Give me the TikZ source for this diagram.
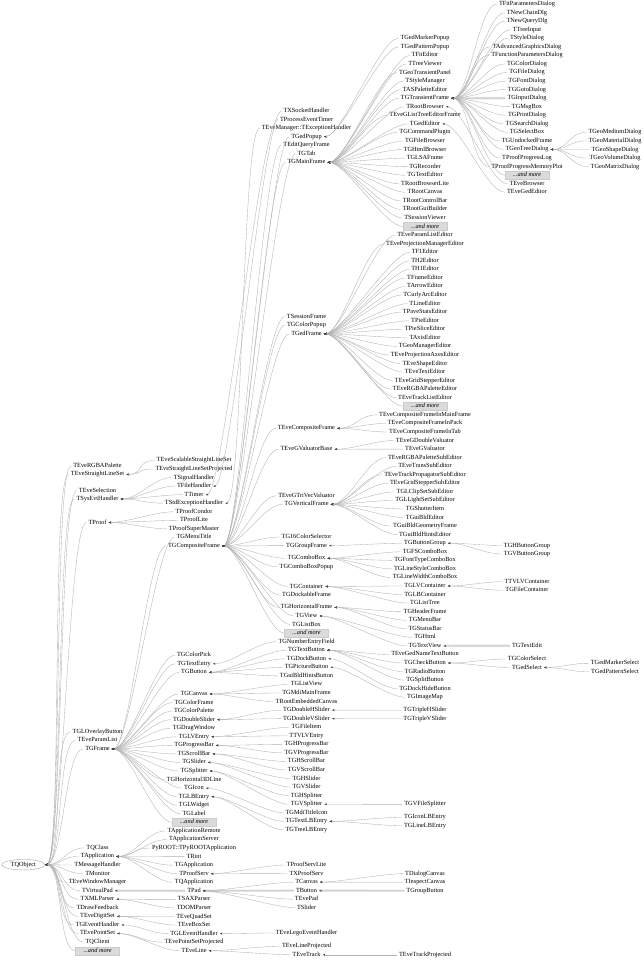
\documentclass[tikz,border=0pt]{standalone}
\usepackage{fontspec}
\setmainfont{Liberation Serif}
\usetikzlibrary{arrows.meta,shapes.geometric}
\tikzset{
 lbl/.style={inner xsep=2pt,inner ysep=0.6pt,font=\fontsize{6.3}{7}\selectfont,text height=4.4pt,text depth=1.4pt},
 morebox/.style={lbl,fill=gray!28,draw=gray!40,line width=0.2pt,minimum width=44pt,minimum height=8pt,font=\fontsize{6.3}{7}\selectfont\itshape},
 rootnode/.style={ellipse,draw=gray!70,line width=0.4pt,fill=white,minimum width=43pt,minimum height=10.5pt,inner sep=0pt,font=\fontsize{6.3}{7}\selectfont},
 edge/.style={draw=gray!60,line width=0.35pt,arrows={Stealth[length=2.6pt,width=1.9pt,color=black!75]-}},
 hl/.style={draw=gray!22,line width=2.4pt},
}
\newcommand\lnk[2]{\draw[edge] (#1.east) .. controls +(18,0) and +(-18,0) .. (#2.west);}
\newcommand\hlnk[2]{\draw[hl] (#1.east) -- (#2.west);}
\begin{document}
\begin{tikzpicture}[x=1pt,y=-1pt]
\fill[white] (0,0) rectangle (644,960);
\useasboundingbox (0,0) rectangle (644,960);
% ---------- column A
\node[rootnode] (qobj) at (23.3,864.7) {TQObject};
% ---------- column B
\node[lbl] (bRGBA) at (97.5,465.9) {TEveRGBAPalette};
\node[lbl] (bSLS) at (97.5,474.4) {TEveStraightLineSet};
\node[lbl] (bSel) at (97.5,490.5) {TEveSelection};
\node[lbl] (bSys) at (97.5,499.0) {TSysEvtHandler};
\node[lbl] (bProof) at (97.5,522.5) {TProof};
\node[lbl] (bOvl) at (97.5,731.9) {TGLOverlayButton};
\node[lbl] (bPar) at (97.5,740.4) {TEveParamList};
\node[lbl] (bFrame) at (97.5,749.0) {TGFrame};
\foreach \nm/\tx [count=\i from 0] in {bQC/TQClass,bApp/TApplication,bMsg/TMessageHandler,bMon/TMonitor,bEWM/TEveWindowManager,bVP/TVirtualPad,bXML/TXMLParser,bDF/TDrawFeedback,bEDS/TEveDigitSet,bGEH/TGEventHandler,bEPS/TEvePointSet,bQCl/TQClient}
 {\node[lbl] (\nm) at (97.5,{847.9+8.558*\i}) {\tx};}
\node[morebox] (bMore) at (97.5,950.6) {...and more};
% ---------- column C
\foreach \nm/\tx [count=\i from 0] in {cSSLS/TEveScalableStraightLineSet,cSLSP/TEveStraightLineSetProjected,cSig/TSignalHandler,cFH/TFileHandler,cTim/TTimer,cSEH/TStdExceptionHandler,cPC/TProofCondor,cPL/TProofLite,cPSM/TProofSuperMaster,cMT/TGMenuTitle,cCF/TGCompositeFrame}
 {\node[lbl] (\nm) at (194,{460.4+8.558*\i}) {\tx};}
\foreach \nm/\tx [count=\i from 0] in {cCP/TGColorPick,cTE/TGTextEntry,cBut/TGButton}
 {\node[lbl] (\nm) at (194,{655.2+8.558*\i}) {\tx};}
\foreach \nm/\tx [count=\i from 0] in {cCan/TGCanvas,cCFr/TGColorFrame,cCPal/TGColorPalette,cDS/TGDoubleSlider,cDW/TGDragWindow,cLVE/TGLVEntry,cPB/TGProgressBar,cSB/TGScrollBar,cSl/TGSlider,cSp/TGSplitter,cH3D/TGHorizontal3DLine,cIcon/TGIcon,cLBE/TGLBEntry,cGLW/TGLWidget,cLab/TGLabel}
 {\node[lbl] (\nm) at (194,{694.0+8.558*\i}) {\tx};}
\node[morebox] (cMore) at (194,822.4) {...and more};
\foreach \nm/\tx [count=\i from 16] in {cAR/TApplicationRemote,cAS/TApplicationServer,cPy/PyROOT::TPyROOTApplication,cRint/TRint,cGApp/TGApplication,cPS/TProofServ,cQApp/TQApplication,cPad/TPad,cSAX/TSAXParser,cDOM/TDOMParser,cEQS/TEveQuadSet,cEBS/TEveBoxSet,cGLEH/TGLEventHandler,cEPSP/TEvePointSetProjected,cELine/TEveLine}
 {\node[lbl] (\nm) at (194,{694.0+8.558*\i}) {\tx};}
% ---------- column D
\foreach \nm/\tx [count=\i from 0] in {dXS/TXSocketHandler,dPET/TProcessEventTimer,dEMX/TEveManager::TExceptionHandler,dGP/TGedPopup,dEQF/TEditQueryFrame,dTab/TGTab,dMF/TGMainFrame}
 {\node[lbl] (\nm) at (306.5,{111.0+8.558*\i}) {\tx};}
\foreach \nm/\tx [count=\i from 0] in {dSF/TSessionFrame,dCPop/TGColorPopup,dGF/TGedFrame}
 {\node[lbl] (\nm) at (306.5,{316.7+8.558*\i}) {\tx};}
\node[lbl] (dECF) at (306.5,428.3) {TEveCompositeFrame};
\node[lbl] (dGVB) at (306.5,449.2) {TEveGValuatorBase};
\node[lbl] (dGTV) at (306.5,495.8) {TEveGTriVecValuator};
\node[lbl] (dVF) at (306.5,504.3) {TGVerticalFrame};
\node[lbl] (d16) at (306.5,537.0) {TG16ColorSelector};
\node[lbl] (dGrp) at (306.5,545.6) {TGGroupFrame};
\node[lbl] (dCB) at (306.5,558.3) {TGComboBox};
\node[lbl] (dCBP) at (306.5,566.9) {TGComboBoxPopup};
\node[lbl] (dCont) at (306.5,586.5) {TGContainer};
\node[lbl] (dDock) at (306.5,595.0) {TGDockableFrame};
\foreach \nm/\tx [count=\i from 0] in {dHF/TGHorizontalFrame,dView/TGView,dLB/TGListBox}
 {\node[lbl] (\nm) at (306.5,{607.4+8.558*\i}) {\tx};}
\node[morebox] (dMore) at (306.5,633.1) {...and more};
\foreach \nm/\tx [count=\i from 4] in {dNEF/TGNumberEntryField,dTB/TGTextButton,dDB/TGDockButton,dPicB/TGPictureButton,dGBHB/TGuiBldHintsButton,dLV/TGListView,dMMF/TGMdiMainFrame,dREC/TRootEmbeddedCanvas,dDHS/TGDoubleHSlider,dDVS/TGDoubleVSlider,dFI/TGFileItem,dTTV/TTVLVEntry,dHPB/TGHProgressBar,dVPB/TGVProgressBar,dHSB/TGHScrollBar,dVSB/TGVScrollBar,dHSl/TGHSlider,dVSl/TGVSlider,dHSp/TGHSplitter,dVSp/TGVSplitter,dMTI/TGMdiTitleIcon,dTLB/TGTextLBEntry,dTrLB/TGTreeLBEntry}
 {\node[lbl] (\nm) at (306.5,{607.4+8.558*\i}) {\tx};}
\foreach \nm/\tx [count=\i from 0] in {dPSL/TProofServLite,dXPS/TXProofServ,dCan/TCanvas,dBut/TButton,dEPad/TEvePad,dSli/TSlider}
 {\node[lbl] (\nm) at (306.5,{865.0+8.558*\i}) {\tx};}
\node[lbl] (dLEH) at (306.5,933.0) {TEveLegoEventHandler};
\node[lbl] (dELP) at (306.5,946.2) {TEveLineProjected};
\node[lbl] (dETr) at (306.5,954.7) {TEveTrack};
% ---------- column E
\foreach \tx [count=\k from 0] in {TGedMarkerPopup,TGedPatternPopup,TFitEditor,TTreeViewer,TGeoTransientPanel,TStyleManager,TASPaletteEditor,TGTransientFrame,TRootBrowser,TEveGListTreeEditorFrame,TGedEditor,TGCommandPlugin,TGFileBrowser,TGHtmlBrowser,TGLSAFrame,TGRecorder,TGTextEditor,TRootBrowserLite,TRootCanvas,TRootControlBar,TRootGuiBuilder,TSessionViewer}
 {\node[lbl] (e\k) at (425,{38.3+8.558*\k}) {\tx};}
\node[morebox] (e22) at (425,{38.3+8.558*22}) {...and more};
\foreach \tx [count=\k from 23] in {TEveParamListEditor,TEveProjectionManagerEditor,TF1Editor,TH2Editor,TH1Editor,TFrameEditor,TArrowEditor,TCurlyArcEditor,TLineEditor,TPaveStatsEditor,TPieEditor,TPieSliceEditor,TAxisEditor,TGeoManagerEditor,TEveProjectionAxesEditor,TEveShapeEditor,TEveTextEditor,TEveGridStepperEditor,TEveRGBAPaletteEditor,TEveTrackListEditor}
 {\node[lbl] (e\k) at (425,{38.3+8.558*\k}) {\tx};}
\node[morebox] (e43) at (425,{38.3+8.558*43}) {...and more};
\foreach \tx [count=\k from 44] in {TEveCompositeFrameInMainFrame,TEveCompositeFrameInPack,TEveCompositeFrameInTab,TEveGDoubleValuator,TEveGValuator,TEveRGBAPaletteSubEditor,TEveTransSubEditor,TEveTrackPropagatorSubEditor,TEveGridStepperSubEditor,TGLClipSetSubEditor,TGLLightSetSubEditor,TGShutterItem,TGuiBldEditor,TGuiBldGeometryFrame,TGuiBldHintsEditor,TGButtonGroup,TGFSComboBox,TGFontTypeComboBox,TGLineStyleComboBox,TGLineWidthComboBox,TGLVContainer,TGLBContainer,TGListTree,TGHeaderFrame,TGMenuBar,TGStatusBar,TGHtml,TGTextView,TEveGedNameTextButton,TGCheckButton,TGRadioButton,TGSplitButton,TGDockHideButton,TGImageMap}
 {\node[lbl] (e\k) at (425,{38.3+8.558*\k}) {\tx};}
\node[lbl] (eTHS) at (425,710.2) {TGTripleHSlider};
\node[lbl] (eTVS) at (425,718.8) {TGTripleVSlider};
\node[lbl] (eVFS) at (425,804.4) {TGVFileSplitter};
\node[lbl] (eILB) at (425,817.2) {TGIconLBEntry};
\node[lbl] (eLLB) at (425,825.8) {TGLineLBEntry};
\node[lbl] (eDC) at (425,873.6) {TDialogCanvas};
\node[lbl] (eIC) at (425,882.1) {TInspectCanvas};
\node[lbl] (eGB) at (425,890.7) {TGroupButton};
\node[lbl] (eETP) at (425,954.7) {TEveTrackProjected};
% ---------- column F
\foreach \tx [count=\k from 0] in {TFitParametersDialog,TNewChainDlg,TNewQueryDlg,TTreeInput,TStyleDialog,TAdvancedGraphicsDialog,TFunctionParametersDialog,TGColorDialog,TGFileDialog,TGFontDialog,TGGotoDialog,TGInputDialog,TGMsgBox,TGPrintDialog,TGSearchDialog,TGSelectBox,TGUndockedFrame,TGeoTreeDialog,TProofProgressLog,TProofProgressMemoryPlot}
 {\node[lbl] (f\k) at (527,{4.0+8.558*\k}) {\tx};}
\node[morebox] (f20) at (527,{4.0+8.558*20}) {...and more};
\node[lbl] (f21) at (527,{4.0+8.558*21}) {TEveBrowser};
\node[lbl] (f22) at (527,{4.0+8.558*22}) {TEveGedEditor};
\node[lbl] (fHBG) at (527,545.5) {TGHButtonGroup};
\node[lbl] (fVBG) at (527,554.0) {TGVButtonGroup};
\node[lbl] (fTVC) at (527,581.7) {TTVLVContainer};
\node[lbl] (fFC) at (527,590.3) {TGFileContainer};
\node[lbl] (fTE) at (527,645.9) {TGTextEdit};
\node[lbl] (fCS) at (527,659.0) {TGColorSelect};
\node[lbl] (fGS) at (527,667.5) {TGedSelect};
% ---------- column G
\foreach \tx [count=\k from 0] in {TGeoMediumDialog,TGeoMaterialDialog,TGeoShapeDialog,TGeoVolumeDialog,TGeoMatrixDialog}
 {\node[lbl] (g\k) at (615,{132.4+8.558*\k}) {\tx};}
\node[lbl] (gMS) at (615,663.3) {TGedMarkerSelect};
\node[lbl] (gPS) at (615,671.8) {TGedPatternSelect};
% ---------- highlighted straight edges
\hlnk{bVP}{cPad}
\hlnk{cPad}{dBut}
\hlnk{dBut}{eGB}
\hlnk{e7}{f11}
\hlnk{e71}{fTE}
% ---------- edges A -> B
\foreach \c in {bRGBA,bSLS,bSel,bSys,bProof,bOvl,bPar,bFrame,bQC,bApp,bMsg,bMon,bEWM,bVP,bXML,bDF,bEDS,bGEH,bEPS,bQCl,bMore} {\lnk{qobj}{\c}}
% ---------- edges B -> C
\foreach \c in {cSSLS,cSLSP} {\lnk{bSLS}{\c}}
\foreach \c in {cSig,cFH,cTim,cSEH} {\lnk{bSys}{\c}}
\foreach \c in {cPC,cPL,cPSM} {\lnk{bProof}{\c}}
\foreach \c in {cMT,cCF,cCP,cTE,cBut,cCan,cCFr,cCPal,cDS,cDW,cLVE,cPB,cSB,cSl,cSp,cH3D,cIcon,cLBE,cGLW,cLab,cMore} {\lnk{bFrame}{\c}}
\foreach \c in {cAR,cAS,cPy,cRint,cGApp,cPS,cQApp} {\lnk{bApp}{\c}}
\lnk{bVP}{cPad}
\foreach \c in {cSAX,cDOM} {\lnk{bXML}{\c}}
\foreach \c in {cEQS,cEBS} {\lnk{bEDS}{\c}}
\lnk{bGEH}{cGLEH}
\foreach \c in {cEPSP,cELine} {\lnk{bEPS}{\c}}
% ---------- edges C -> D
\lnk{cFH}{dXS}
\lnk{cTim}{dPET}
\lnk{cSEH}{dEMX}
\foreach \c in {dGP,dEQF,dTab,dMF,dSF,dCPop,dGF,dECF,dGVB,dGTV,dVF,d16,dGrp,dCB,dCBP,dCont,dDock,dHF,dView,dLB,dMore} {\lnk{cCF}{\c}}
\lnk{cTE}{dNEF}
\foreach \c in {dTB,dDB,dPicB,dGBHB} {\lnk{cBut}{\c}}
\foreach \c in {dLV,dMMF,dREC} {\lnk{cCan}{\c}}
\foreach \c in {dDHS,dDVS} {\lnk{cDS}{\c}}
\foreach \c in {dFI,dTTV} {\lnk{cLVE}{\c}}
\foreach \c in {dHPB,dVPB} {\lnk{cPB}{\c}}
\foreach \c in {dHSB,dVSB} {\lnk{cSB}{\c}}
\foreach \c in {dHSl,dVSl} {\lnk{cSl}{\c}}
\foreach \c in {dHSp,dVSp} {\lnk{cSp}{\c}}
\lnk{cIcon}{dMTI}
\foreach \c in {dTLB,dTrLB} {\lnk{cLBE}{\c}}
\foreach \c in {dPSL,dXPS} {\lnk{cPS}{\c}}
\foreach \c in {dCan,dBut,dEPad,dSli} {\lnk{cPad}{\c}}
\lnk{cGLEH}{dLEH}
\foreach \c in {dELP,dETr} {\lnk{cELine}{\c}}
% ---------- edges D -> E
\foreach \k in {0,1} {\lnk{dGP}{e\k}}
\foreach \k in {2,...,22} {\lnk{dMF}{e\k}}
\foreach \k in {23,...,43} {\lnk{dGF}{e\k}}
\foreach \k in {44,45,46} {\lnk{dECF}{e\k}}
\foreach \k in {47,48} {\lnk{dGVB}{e\k}}
\foreach \k in {49,...,58} {\lnk{dVF}{e\k}}
\lnk{dGrp}{e59}
\foreach \k in {60,...,63} {\lnk{dCB}{e\k}}
\foreach \k in {64,65,66} {\lnk{dCont}{e\k}}
\foreach \k in {67,68,69} {\lnk{dHF}{e\k}}
\foreach \k in {70,71} {\lnk{dView}{e\k}}
\foreach \k in {72,...,75} {\lnk{dTB}{e\k}}
\lnk{dDB}{e76}
\lnk{dPicB}{e77}
\lnk{dDHS}{eTHS}
\lnk{dDVS}{eTVS}
\lnk{dVSp}{eVFS}
\foreach \c in {eILB,eLLB} {\lnk{dTLB}{\c}}
\foreach \c in {eDC,eIC} {\lnk{dCan}{\c}}
\lnk{dBut}{eGB}
\lnk{dETr}{eETP}
% ---------- edges E -> F
\foreach \k in {0,...,20} {\lnk{e7}{f\k}}
\lnk{e8}{f21}
\lnk{e10}{f22}
\foreach \c in {fHBG,fVBG} {\lnk{e59}{\c}}
\foreach \c in {fTVC,fFC} {\lnk{e64}{\c}}
\lnk{e71}{fTE}
\foreach \c in {fCS,fGS} {\lnk{e73}{\c}}
% ---------- edges F -> G
\foreach \k in {0,...,4} {\lnk{f17}{g\k}}
\foreach \c in {gMS,gPS} {\lnk{fGS}{\c}}
\end{tikzpicture}
\end{document}
